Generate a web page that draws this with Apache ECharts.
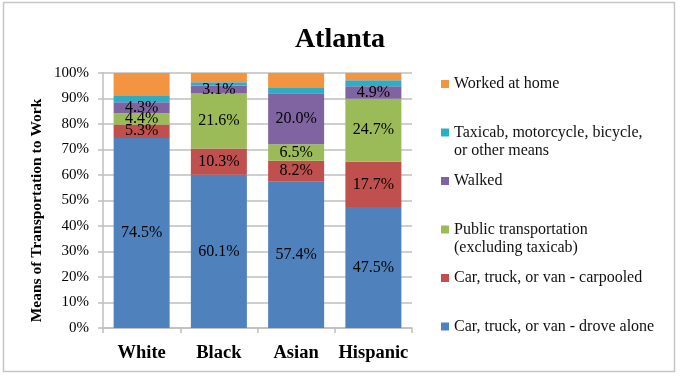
<!DOCTYPE html>
<html>
<head>
<meta charset="utf-8">
<script src="https://cdn.jsdelivr.net/npm/echarts@6/dist/echarts.min.js"></script>
<style>
  html, body { margin: 0; padding: 0; background: #fff; }
  #chart { width: 680px; height: 378px; }
</style>
</head>
<body>
<div id="chart"></div>
<script>
// ---- data ----
const categories = ['White', 'Black', 'Asian', 'Hispanic'];
const droveAlone = [74.5, 60.1, 57.4, 47.5];
const carpooled = [5.3, 10.3, 8.2, 17.7];
const publicTransit = [4.4, 21.6, 6.5, 24.7];
const walked = [4.3, 3.1, 20.0, 4.9];
const otherMeans = [2.8, 1.3, 2.3, 2.4];
const workedAtHome = [8.7, 3.6, 5.6, 2.8];
const yTicks = [0, 10, 20, 30, 40, 50, 60, 70, 80, 90, 100];
const seriesNames = [
  'Car, truck, or van - drove alone',
  'Car, truck, or van - carpooled',
  'Public transportation\n(excluding taxicab)',
  'Walked',
  'Taxicab, motorcycle, bicycle,\nor other means',
  'Worked at home'
];
const seriesValues = [droveAlone, carpooled, publicTransit, walked, otherMeans, workedAtHome];
const showLabels = [true, true, true, true, false, false];

// ---- styles ----
const colors = ['#4F81BD', '#C0504D', '#9BBB59', '#8064A2', '#2EADC6', '#F29440'];
const SERIF = '"Liberation Serif", "DejaVu Serif", serif';
const GRID = '#BFBFBF';

const series = seriesNames.map((name, i) => ({
  name: name,
  type: 'bar',
  stack: 'total',
  barCategoryGap: '27.5%',
  itemStyle: { color: colors[i] },
  label: {
    show: showLabels[i],
    position: 'inside',
    color: '#000',
    fontFamily: SERIF,
    fontSize: 16,
    formatter: p => p.value.toFixed(1) + '%'
  },
  emphasis: { disabled: true },
  data: seriesValues[i]
}));

// legend layout: order from top, icon centre y
const legendOrder = [5, 4, 3, 2, 1, 0];
const legendCenters = [84, 132.5, 181, 229.5, 278, 326.5];
const LH = 18.5;
const legends = legendOrder.map((idx, k) => {
  const twoLine = seriesNames[idx].indexOf('\n') >= 0;
  return {
    data: [seriesNames[idx]],
    orient: 'vertical',
    left: 441,
    top: twoLine ? legendCenters[k] - 1.5 * LH : legendCenters[k] - LH / 2,
    padding: 0,
    icon: 'rect',
    itemWidth: 8,
    itemHeight: 8,
    itemGap: 0,
    selectedMode: false,
    formatter: name => (name.indexOf('\n') >= 0 ? ' \n' + name : name),
    textStyle: {
      color: '#111',
      fontFamily: SERIF,
      fontSize: 16,
      lineHeight: LH
    }
  };
});

const chart = echarts.init(document.getElementById('chart'), null, { renderer: 'canvas' });
chart.setOption({
  animation: false,
  color: colors,
  title: {
    text: 'Atlanta',
    left: 'center',
    top: 21,
    textStyle: { fontFamily: SERIF, fontSize: 28, fontWeight: 'bold', color: '#000' }
  },
  graphic: [{
    type: 'rect',
    shape: { x: 3.5, y: 2.5, width: 671, height: 369 },
    style: { fill: 'none', stroke: '#C6C6C6', lineWidth: 1.5 },
    silent: true,
    z: -1
  }],
  legend: legends,
  grid: { left: 103, right: 268, top: 73, bottom: 50, containLabel: false },
  xAxis: {
    type: 'category',
    data: categories,
    axisLine: { lineStyle: { color: GRID, width: 1.5 } },
    axisTick: { show: true, length: 5, lineStyle: { color: GRID, width: 1.5 } },
    axisLabel: {
      interval: 0,
      hideOverlap: false,
      margin: 16,
      color: '#000',
      fontFamily: SERIF,
      fontSize: 18.5,
      fontWeight: 'bold'
    }
  },
  yAxis: {
    type: 'value',
    min: yTicks[0],
    max: yTicks[yTicks.length - 1],
    interval: 10,
    name: 'Means of Transportation to Work',
    nameLocation: 'middle',
    nameGap: 58,
    nameTextStyle: {
      fontFamily: SERIF, fontSize: 15.5, fontWeight: 'bold', color: '#000',
      padding: [0, 20, 0, 0]
    },
    axisLine: { show: true, lineStyle: { color: GRID, width: 1.5 } },
    axisTick: { show: true, length: 5, lineStyle: { color: GRID, width: 1.5 } },
    splitLine: { lineStyle: { color: GRID, width: 1.5 } },
    axisLabel: {
      margin: 14,
      color: '#000',
      fontFamily: SERIF,
      fontSize: 15,
      formatter: v => v + '%'
    }
  },
  series: series
});
</script>
</body>
</html>
